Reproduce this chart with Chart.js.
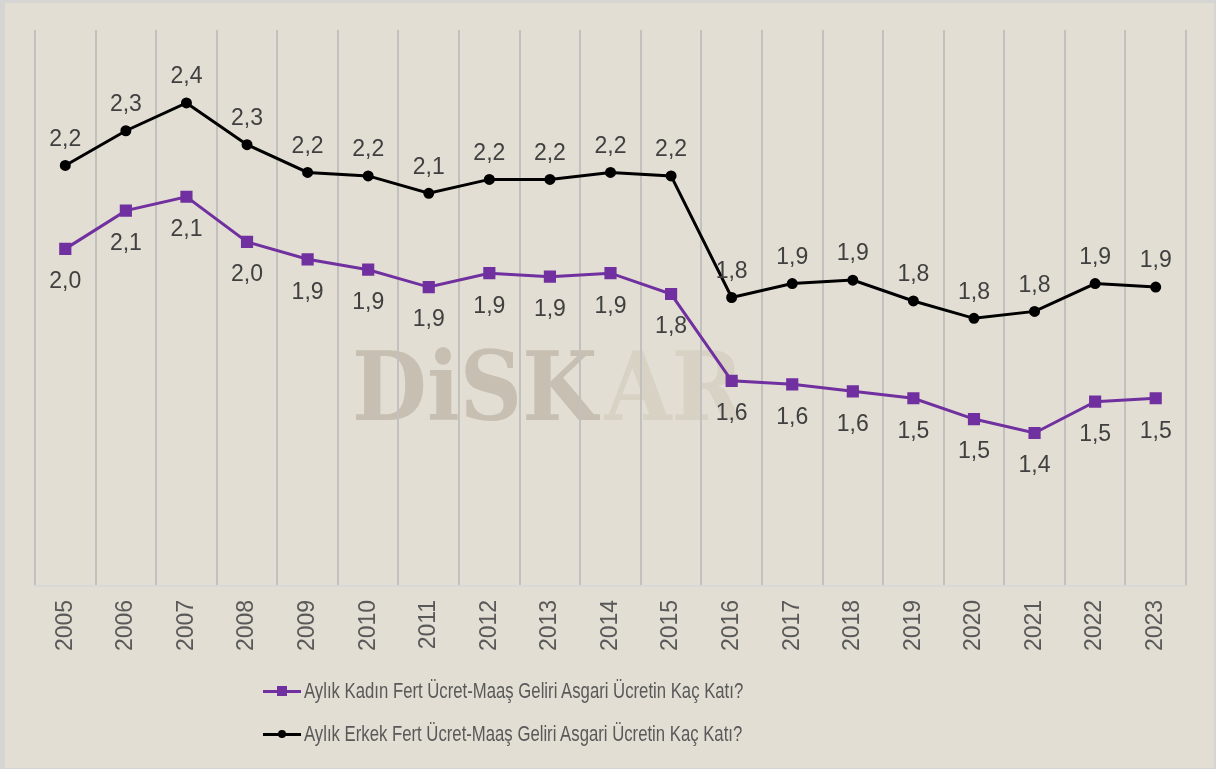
<!DOCTYPE html>
<html>
<head>
<meta charset="utf-8">
<script src="https://cdn.jsdelivr.net/npm/chart.js@4.4.1/dist/chart.umd.min.js"></script>
<style>
  html, body { margin: 0; padding: 0; width: 1216px; height: 769px; overflow: hidden; background: #d5d5d4; }
  #wrap { position: absolute; left: 5px; top: 3px; width: 1209px; height: 765px; background: #e3ded3; }
  #chart { position: absolute; left: 0; top: 0; }
  .item { position: absolute; left: 258px; display: flex; align-items: center; white-space: nowrap;
          font-family: "Liberation Sans", Arial, sans-serif; font-size: 22px; color: #595959; height: 26px; }
  .mark { position: relative; width: 38px; height: 3px; }
  .mark i { position: absolute; left: 50%; top: 50%; transform: translate(-50%, -50%); display: block; }
  .txt { display: inline-block; transform-origin: left center; transform: scaleX(0.76); margin-left: 3px; }
</style>
</head>
<body>
<div id="wrap">
  <canvas id="chart" width="1209" height="765"></canvas>
  <div id="legend"></div>
</div>
<script>
const years = ["2005", "2006", "2007", "2008", "2009", "2010", "2011", "2012", "2013", "2014",
               "2015", "2016", "2017", "2018", "2019", "2020", "2021", "2022", "2023"];
const kadin = [1.97, 2.08, 2.12, 1.99, 1.94, 1.91, 1.86, 1.90, 1.89, 1.90,
               1.84, 1.59, 1.58, 1.56, 1.54, 1.48, 1.44, 1.53, 1.54];
const erkek = [2.21, 2.31, 2.39, 2.27, 2.19, 2.18, 2.13, 2.17, 2.17, 2.19,
               2.18, 1.83, 1.87, 1.88, 1.82, 1.77, 1.79, 1.87, 1.86];
const seriesNames = ["Aylık Kadın Fert Ücret-Maaş Geliri Asgari Ücretin Kaç Katı?",
                     "Aylık Erkek Fert Ücret-Maaş Geliri Asgari Ücretin Kaç Katı?"];

// watermark behind the grid
const watermark = {
  id: "watermark",
  beforeDraw(chart) {
    const ctx = chart.ctx;
    ctx.save();
    ctx.font = "bold 96px 'DejaVu Serif', serif";
    ctx.textBaseline = "alphabetic";
    ctx.translate(347, 417);
    ctx.scale(0.9, 1);
    ctx.fillStyle = "#c6bfb2";
    ctx.fillText("DiSK", 0, 0);
    const w = ctx.measureText("DiSK").width;
    ctx.fillStyle = "#d8d2c5";
    ctx.fillText("AR", w + 8, 0);
    ctx.restore();
  }
};

// value labels: men above the point, women below
const valueLabels = {
  id: "valueLabels",
  afterDatasetsDraw(chart) {
    const ctx = chart.ctx;
    ctx.save();
    ctx.font = "23px 'Liberation Sans', Arial, sans-serif";
    ctx.fillStyle = "#404040";
    ctx.textAlign = "center";
    ctx.textBaseline = "middle";
    chart.data.datasets.forEach((ds, i) => {
      const dy = i === 0 ? 33 : -26;
      chart.getDatasetMeta(i).data.forEach((pt, j) => {
        ctx.fillText(ds.data[j].toFixed(1).replace(".", ","), pt.x, pt.y + dy);
      });
    });
    ctx.restore();
  }
};

const chart = new Chart(document.getElementById("chart").getContext("2d"), {
  type: "line",
  data: {
    labels: years,
    datasets: [{
      label: seriesNames[0],
      data: kadin,
      borderColor: "#7030a0",
      backgroundColor: "#7030a0",
      borderWidth: 3,
      pointStyle: "rect",
      pointRadius: 6.5,
      tension: 0
    }, {
      label: seriesNames[1],
      data: erkek,
      borderColor: "#000000",
      backgroundColor: "#000000",
      borderWidth: 3,
      pointStyle: "circle",
      pointRadius: 4,
      tension: 0
    }]
  },
  options: {
    responsive: false,
    animation: false,
    layout: { padding: { left: 30, right: 28, top: 27, bottom: 103 } },
    scales: {
      x: {
        offset: true,
        grid: { offset: true, color: "#c2c1bf", lineWidth: 2, drawTicks: false },
        border: { color: "#d8d8d6", width: 2 },
        ticks: {
          color: "#595959",
          font: { family: "'Liberation Sans', Arial, sans-serif", size: 23 },
          minRotation: 90,
          maxRotation: 90,
          padding: 14
        }
      },
      y: { display: false, min: 1.0, max: 2.6 }
    },
    plugins: {
      legend: { display: false },
      tooltip: { enabled: false }
    }
  },
  plugins: [watermark, valueLabels]
});

// html legend with line + marker samples
const legendBox = document.getElementById("legend");
const rowTops = [675, 718];
chart.data.datasets.forEach((ds, i) => {
  const item = document.createElement("div");
  item.className = "item";
  item.style.top = rowTops[i] + "px";
  const mark = document.createElement("span");
  mark.className = "mark";
  mark.style.background = ds.borderColor;
  const dot = document.createElement("i");
  if (ds.pointStyle === "rect") {
    dot.style.width = "10px"; dot.style.height = "10px";
  } else {
    dot.style.width = "8px"; dot.style.height = "8px"; dot.style.borderRadius = "50%";
  }
  dot.style.background = ds.borderColor;
  mark.appendChild(dot);
  const txt = document.createElement("span");
  txt.className = "txt";
  txt.textContent = ds.label;
  item.appendChild(mark);
  item.appendChild(txt);
  legendBox.appendChild(item);
});
</script>
</body>
</html>
